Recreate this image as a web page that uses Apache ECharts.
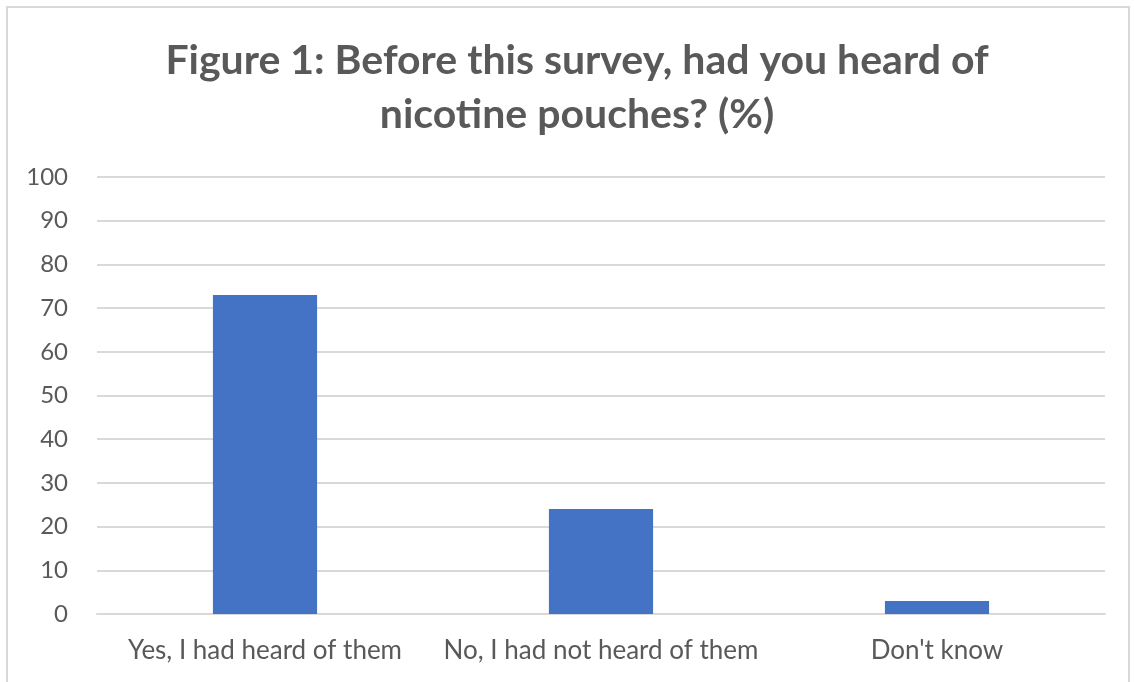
<!DOCTYPE html>
<html>
<head>
<meta charset="utf-8">
<script src="https://cdn.jsdelivr.net/npm/echarts@6/dist/echarts.min.js"></script>
<style>
  html, body { margin: 0; padding: 0; background: #fff; }
  #frame { position: absolute; left: 6px; top: 6px; width: 1124px; height: 680px; box-sizing: border-box; border: 2px solid #d9d9d9; border-bottom: none; }
  #chart { position: absolute; left: 0; top: 0; width: 1134px; height: 682px; }
</style>
</head>
<body>
<div id="frame"></div>
<div id="chart"></div>
<script>
// Survey answers and share of respondents (%)
const categories = ['Yes, I had heard of them', 'No, I had not heard of them', "Don't know"];
const values = [73, 24, 3];
const titleText = 'Figure 1: Before this survey, had you heard of\nnicotine pouches? (%)';

const textColor = '#595959';
const fontFamily = 'Lato, "Open Sans", sans-serif';

const chart = echarts.init(document.getElementById('chart'), null, { renderer: 'canvas' });
chart.setOption({
  animation: false,
  backgroundColor: 'transparent',
  title: {
    text: titleText,
    left: 572,
    textAlign: 'center',
    top: 29,
    textStyle: {
      color: textColor,
      fontFamily: fontFamily,
      fontWeight: 'bold',
      fontSize: 41,
      lineHeight: 54
    }
  },
  grid: { left: 97, right: 29, top: 177, bottom: 68, containLabel: false },
  xAxis: {
    type: 'category',
    data: categories,
    axisLine: { lineStyle: { color: '#d9d9d9', width: 2 } },
    axisTick: { show: false },
    axisLabel: { color: textColor, fontFamily: fontFamily, fontSize: 26, margin: 24, interval: 0 }
  },
  yAxis: {
    type: 'value',
    min: 0,
    max: 100,
    interval: 10,
    axisLine: { show: false },
    axisTick: { show: false },
    axisLabel: { color: textColor, fontFamily: fontFamily, fontSize: 24, margin: 29 },
    splitLine: { lineStyle: { color: '#d9d9d9', width: 2 } }
  },
  series: [{
    type: 'bar',
    data: values,
    barWidth: '31%',
    itemStyle: { color: '#4472c4' }
  }]
});
</script>
</body>
</html>
